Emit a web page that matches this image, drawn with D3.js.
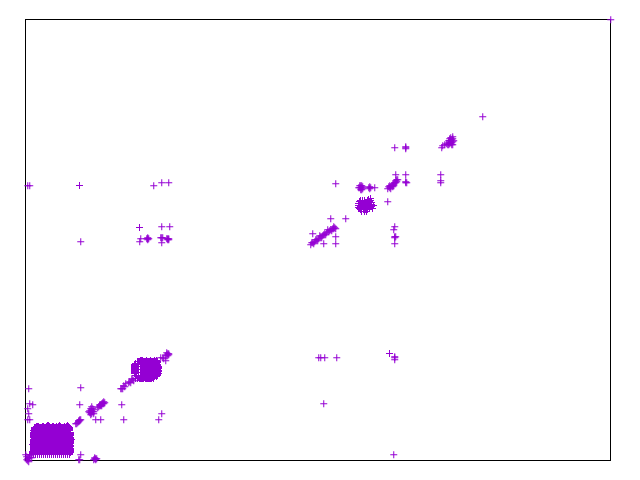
<!DOCTYPE html>
<html><head><meta charset="utf-8">
<script src="https://cdn.jsdelivr.net/npm/d3@7"></script>
<style>html,body{margin:0;padding:0;background:#fff}svg{display:block}</style>
</head><body><script>
const xDomain = [0, 585];
const yDomain = [0, 441];
const pointColor = "#9400d3";
const scattered = [[585,441],[457,344],[369,313],[380,313],[380,312],[380,314],[310,277],[305,242],[320,242],[287,227],[310,224],[310,217],[298,217],[362,259],[369,234],[368,231],[369,224],[370,224],[369,223],[369,217],[2,275],[4,275],[53.75,275.25],[128,275],[136,278],[143,278],[113.75,233.25],[136,234],[144,234],[115,222],[114,219],[55,219],[293,103],[295,103],[299,103],[311,103],[363.75,107.25],[369,103],[369,104],[369,101],[298,57],[368,6],[3,72],[55,73],[54,56],[96,56],[4,57],[7,56],[2,52],[3,47],[2,41],[4,41],[70,41],[75,41],[98,41],[136,47],[133,41],[55,6],[54,1],[53,1],[70,2],[69,2],[71,2],[68,1],[69,3],[70,1],[370,286],[380,286],[380,278],[381,278],[380,279],[415,286],[415,278],[415,280]];
const clusterJ = [[121,222],[122,222],[122,223],[123,222],[122,221],[135,223],[136,223],[137,223],[136,218],[141,222],[142,222],[143,222],[142,221],[143,221]];
const tailA = [[0,6],[1,4],[2,2],[2,0],[3,-1],[4,3],[5,5],[6,3],[1,1],[3,3]];
const blockARow33 = [9,11,13,15,17,19,21,23,25,27,29,31,33,35,37,39,41,43];
const blockARow30 = [8,10,12,14,16,18,20,22,24,26,28,30,32,34,36,38,40,42,44];
const blockARow27 = [9,11,13,15,17,19,21,23,25,27,29,31,33,35,37,39,41,43,45];
const blockARow24 = [8,10,12,14,16,18,20,22,24,26,28,30,32,34,36,38,40,42,44];
const blockARow21 = [9,11,13,15,17,19,21,23,25,27,29,31,33,35,37,39,41,43,45];
const blockARow18 = [8,10,12,14,16,18,20,22,24,26,28,30,32,34,36,38,40,42,44];
const blockARow15 = [9,11,13,15,17,19,21,23,25,27,29,31,33,35,37,39,41,43,45];
const blockARow12 = [8,10,12,14,16,18,20,22,24,26,28,30,32,34,36,38,40,42,44];
const blockARow9 = [9,11,13,15,17,19,21,23,25,27,29,31,33,35,37,39,41,43,45];
const blockARow6 = [4,6,8,10,12,14,16,18,20,22,24,26,28,30,32,34,36,38,40,42,44];
const blockATopEdge = [[9,33],[10,33],[11,34],[12,34],[13,34],[14,33],[15,33],[16,33],[17,34],[18,34],[19,33],[20,33],[21,34],[22,35],[23,35],[24,34],[25,33],[26,33],[27,34],[28,34],[29,33],[30,33],[31,34],[32,33],[33,34],[34,35],[35,34],[36,33],[37,33],[38,33],[39,34],[40,33],[41,34],[42,35],[43,34],[44,33]];
const blockASideEdge = [[9,32],[9,31],[9,30],[9,29],[8,28],[8,27],[8,26],[8,25],[8,24],[8,23],[9,22],[8,21],[8,20],[8,19],[8,18],[8,17],[7,16],[8,15],[8,14],[8,13],[8,12],[8,11],[8,10],[8,9],[8,8],[8,7],[44,32],[44,31],[45,28],[45,27],[45,26],[45,25],[44,24],[45,23],[45,22],[46,21],[45,20],[45,19],[45,18],[45,17],[44,16],[45,15],[45,14],[44,13],[45,12],[45,11],[45,10],[45,9],[45,8],[44,7]];
const blockBRow99 = [114,118,122,126,130];
const blockBRow97 = [110,112,115,117,119,121,123,125,127,129,131];
const blockBRow94 = [109,111,113,116,118,120,122,124,126,128,130];
const blockBRow91 = [110,112,115,117,119,121,123,125,127,129,131];
const blockBRow88 = [110,113,116,118,120,122,124,126,128,130,132];
const blockBRow85 = [111,113,115,117,119,121,123,125,127,129,131];
const blockBRow82 = [110,112,114,116,118,120,122,124,126,128];
const blockBTopEdge = [[112,99],[113,99],[115,100],[116,100],[117,100],[119,99],[120,99],[121,100],[123,99],[124,99],[125,100],[127,99],[128,99],[129,100],[131,100],[132,99]];
const blockBSideEdge = [[110,97],[109,96],[109,95],[109,93],[109,92],[109,91],[109,90],[109,89],[109,88],[109,87],[110,85],[132,98],[132,96],[132,95],[133,94],[133,93],[133,92],[132,91],[133,90],[133,89],[133,87],[132,86],[131,84],[132,85],[113,83],[115,82],[117,82],[119,83],[121,82],[123,82],[125,82],[127,83],[129,84]];
const tailB = [[95,72],[96,72],[97,72],[98,75],[99,74],[100,77],[103,78],[105,78],[106,82],[108,80],[104,79],[107,81],[135,103],[138,102],[140,105],[141,106],[142,107],[143,106],[142,105],[141,108],[143,107],[140,100],[137,103]];
const blockC = [[335,260],[337,260],[339,260],[334,257],[336,257],[338,257],[340,257],[342,258],[344,259],[345,262],[335,254],[337,254],[339,254],[341,254],[343,254],[345,255],[336,251],[338,251],[340,251],[342,251],[344,252],[346,256],[339,249],[335,251],[336,249],[341,249],[333,253],[333,255],[333,257],[334,252],[346,258],[346,254],[345,260],[343,261],[347,252],[342,260],[334,259],[344,256],[337,257],[342,255],[348,255]];
const blockD = [[334,273],[335,273],[336,273],[335,275],[336,275],[337,274],[333,273],[334,275],[336,271],[335,271],[337,272],[343,273],[344,274],[344,272],[345,273],[349,273]];
const clusterE = [[422,316],[423,318],[424,320],[425,320],[426,321],[427,322],[424,317],[426,318],[427,319],[425,323],[423,316],[426,316],[417,315],[419,316],[416,313],[421,317],[427,316],[423,320],[424,322],[428,320],[427,324],[425,318]];
const diagonalF = [[362,272],[364,273],[365,274],[366,275],[367,276],[368,277],[369,278],[370,280],[372,281],[371,279],[363,274],[365,272],[367,274],[368,275],[370,278],[364,275],[371,281]];
const diagonalG = [[285,216],[287,218],[289,219],[291,221],[293,222],[295,224],[297,225],[299,227],[301,228],[303,229],[305,231],[307,232],[308,232],[309,233],[288,217],[292,220],[296,223],[300,226],[304,230],[286,218],[290,221],[294,225],[298,226],[302,231],[306,230],[308,234],[310,232]];
const clusterH = [[64,50],[65,52],[66,54],[68,51],[67,49],[66,47],[65,48],[64,48],[66,50],[67,52],[68,49],[65,46],[63,49],[68,47]];
const clusterI = [[73,54],[74,55],[75,56],[76,57],[77,58],[78,59],[74,56],[76,55],[77,57],[78,57],[75,55],[72,53],[79,58]];
const clusterK = [[52,38],[53,39],[53,40],[54,40],[54,41],[55,41],[51,37],[50,37]];
const blockARows = [[33,blockARow33],[30,blockARow30],[27,blockARow27],[24,blockARow24],[21,blockARow21],[18,blockARow18],[15,blockARow15],[12,blockARow12],[9,blockARow9],[6,blockARow6]];
const blockBRows = [[99,blockBRow99],[97,blockBRow97],[94,blockBRow94],[91,blockBRow91],[88,blockBRow88],[85,blockBRow85],[82,blockBRow82]];
const rowPoints = rows => rows.flatMap(([y, xs]) => xs.map(x => [x, y]));
const softPoints = [...scattered,...clusterJ,...tailA,...tailB,...blockD,...clusterE,...diagonalF,...diagonalG,...clusterH,...clusterI,...clusterK];
const solidPoints = [...rowPoints(blockARows),...blockATopEdge,...blockASideEdge,...rowPoints(blockBRows),...blockBTopEdge,...blockBSideEdge,...blockC];

const x = d3.scaleLinear().domain(xDomain).range([25.5, 610.5]);
const y = d3.scaleLinear().domain(yDomain).range([460.5, 19.5]);
const svg = d3.select("body").append("svg").attr("width", 640).attr("height", 480);
svg.append("rect").attr("x", x(xDomain[0])).attr("y", y(yDomain[1]))
  .attr("width", x(xDomain[1]) - x(xDomain[0])).attr("height", y(yDomain[0]) - y(yDomain[1]))
  .attr("fill", "none").attr("stroke", "#000").attr("stroke-width", 1);
function drawPoints(data, shift) {
  svg.append("g").attr("transform", `translate(${shift},${shift})`).selectAll("path").data(data).join("path")
    .attr("transform", d => `translate(${x(d[0])},${y(d[1])})`)
    .attr("d", "M-3.5,0H3.5M0,-3.5V3.5")
    .attr("fill", "none").attr("stroke", pointColor).attr("stroke-width", 1);
}
drawPoints(solidPoints, 0);
drawPoints(softPoints, 0.25);
</script></body></html>
